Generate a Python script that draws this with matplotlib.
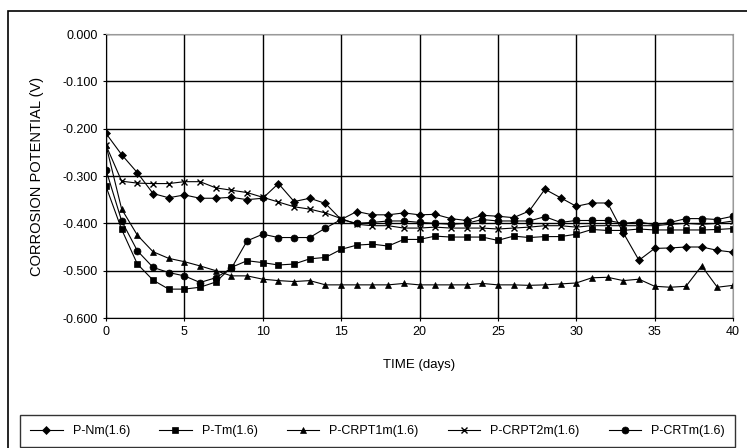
import numpy as np
import matplotlib.pyplot as plt
from matplotlib.patches import Rectangle

plt.rcParams['font.family'] = ['Liberation Sans', 'DejaVu Sans']
plt.rcParams['axes.unicode_minus'] = False

days = list(range(41))

p_nm = [-0.210, -0.255, -0.293, -0.337, -0.346, -0.340, -0.347, -0.347, -0.345, -0.350,
        -0.347, -0.316, -0.354, -0.347, -0.358, -0.392, -0.375, -0.382, -0.382, -0.378,
        -0.382, -0.381, -0.390, -0.394, -0.383, -0.385, -0.388, -0.374, -0.328, -0.346,
        -0.364, -0.357, -0.357, -0.420, -0.478, -0.453, -0.452, -0.450, -0.450, -0.457,
        -0.461]
p_tm = [-0.322, -0.413, -0.486, -0.520, -0.539, -0.539, -0.535, -0.524, -0.493, -0.479,
        -0.483, -0.488, -0.486, -0.475, -0.472, -0.455, -0.446, -0.444, -0.448, -0.434,
        -0.434, -0.427, -0.429, -0.429, -0.429, -0.436, -0.427, -0.430, -0.428, -0.428,
        -0.423, -0.413, -0.415, -0.415, -0.412, -0.414, -0.414, -0.414, -0.414, -0.413,
        -0.411]
p_crpt1m = [-0.235, -0.370, -0.425, -0.460, -0.474, -0.481, -0.490, -0.500, -0.511, -0.511,
            -0.518, -0.521, -0.523, -0.521, -0.530, -0.530, -0.530, -0.530, -0.530, -0.527,
            -0.530, -0.530, -0.530, -0.530, -0.527, -0.530, -0.530, -0.531, -0.530, -0.528,
            -0.526, -0.515, -0.514, -0.521, -0.518, -0.533, -0.535, -0.533, -0.490, -0.535,
            -0.531]
p_crpt2m = [-0.235, -0.311, -0.315, -0.316, -0.316, -0.312, -0.312, -0.325, -0.330, -0.335,
            -0.345, -0.355, -0.365, -0.370, -0.378, -0.390, -0.402, -0.405, -0.405, -0.410,
            -0.410, -0.408, -0.410, -0.410, -0.410, -0.412, -0.410, -0.408, -0.405, -0.405,
            -0.408, -0.405, -0.405, -0.405, -0.405, -0.405, -0.402, -0.400, -0.402, -0.400,
            -0.395]
p_crtm = [-0.287, -0.395, -0.458, -0.493, -0.504, -0.511, -0.525, -0.515, -0.495, -0.437,
          -0.423, -0.430, -0.430, -0.430, -0.410, -0.392, -0.400, -0.398, -0.395, -0.395,
          -0.398, -0.400, -0.402, -0.400, -0.392, -0.395, -0.395, -0.395, -0.386, -0.398,
          -0.394, -0.394, -0.394, -0.400, -0.397, -0.403, -0.398, -0.390, -0.390, -0.392,
          -0.385]

series = [
    ('P-Nm(1.6)', p_nm, 'D', 4.5),
    ('P-Tm(1.6)', p_tm, 's', 4.5),
    ('P-CRPT1m(1.6)', p_crpt1m, '^', 5),
    ('P-CRPT2m(1.6)', p_crpt2m, 'x', 5),
    ('P-CRTm(1.6)', p_crtm, 'o', 5),
]

fig = plt.figure(figsize=(7.47, 4.48), dpi=100)
ax = fig.add_axes([106/747, 1 - 318/448, 627/747, 284/448])

for name, vals, mk, ms in series:
    ax.plot(days, vals, color='black', lw=0.8, marker=mk, ms=ms,
            markeredgewidth=1.0 if mk == 'x' else 0.5, label=name)

ax.set_xlim(0, 40)
ax.set_ylim(-0.6, 0.0)
ax.set_xticks(range(0, 41, 5))
yt = np.arange(-0.6, 0.001, 0.1)
ax.set_yticks(yt)
ax.set_yticklabels(['%.3f' % v if abs(v) > 1e-9 else '0.000' for v in yt])
ax.grid(True, color='black', lw=1.0)
ax.tick_params(labelsize=9, direction='inout', length=5, width=0.8)
for side in ['top', 'right']:
    ax.spines[side].set_color('#999999')
for side in ['left', 'bottom']:
    ax.spines[side].set_color('black')

ax.set_xlabel('TIME (days)', fontsize=9.5, labelpad=15)
ax.set_ylabel('CORROSION POTENTIAL (V)', fontsize=10.5, labelpad=13)

fig.patches.append(Rectangle((8/747, -0.1), 1.2, 1.1 - 11/448,
                             transform=fig.transFigure, fill=False,
                             edgecolor='black', lw=1.2))

fig.legend(loc='lower left', bbox_to_anchor=(20/747, 1/448, 715/747, 32/448),
           mode='expand', ncol=5, fontsize=9, frameon=True, fancybox=False,
           edgecolor='black', handlelength=2.6, borderaxespad=0, borderpad=0.8)

fig.savefig('out.png', dpi=100)
